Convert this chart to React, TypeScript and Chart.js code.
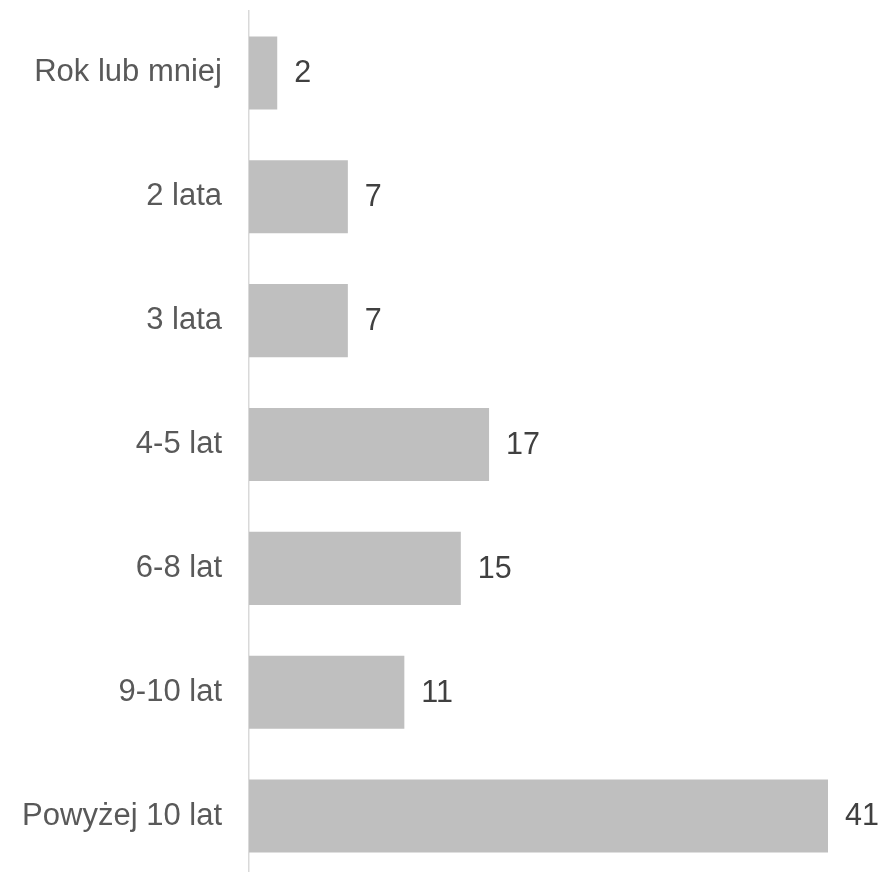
import React, { useEffect, useRef } from "react";
import { Chart, registerables } from "chart.js";

Chart.register(...registerables);

const categories = [
  "Rok lub mniej",
  "2 lata",
  "3 lata",
  "4-5 lat",
  "6-8 lat",
  "9-10 lat",
  "Powyżej 10 lat",
];
const values = [2, 7, 7, 17, 15, 11, 41];

const FONT = '"Liberation Sans", Arial, sans-serif';

const valueLabels = {
  id: "valueLabels",
  afterDatasetsDraw(chart: any) {
    const ctx = chart.ctx;
    const meta = chart.getDatasetMeta(0);
    ctx.save();
    ctx.font = `30.5px ${FONT}`;
    ctx.fillStyle = "#404040";
    ctx.textAlign = "left";
    ctx.textBaseline = "middle";
    meta.data.forEach((bar: any, i: number) => {
      ctx.fillText(String(values[i]), bar.x + 17, bar.y + 1);
    });
    ctx.restore();
  },
};

export default function App() {
  const ref = useRef<HTMLCanvasElement>(null);
  useEffect(() => {
    if (!ref.current) return;
    const chart = new Chart(ref.current, {
      type: "bar",
      data: {
        labels: categories,
        datasets: [
          {
            data: values,
            backgroundColor: "#bfbfbf",
            borderWidth: 0,
            categoryPercentage: 1,
            barPercentage: 0.59,
          },
        ],
      },
      options: {
        indexAxis: "y",
        responsive: false,
        animation: false,
        layout: { padding: { top: 11, right: 54, bottom: 0, left: 0 } },
        plugins: { legend: { display: false }, tooltip: { enabled: false } },
        scales: {
          x: { display: false, min: 0, max: 41 },
          y: {
            afterFit: (s: any) => {
              s.width = 249;
              s.paddingTop = 0;
              s.paddingBottom = 0;
            },
            grid: { display: false, drawTicks: false },
            border: { display: true, color: "#d9d9d9", width: 1.5 },
            ticks: {
              padding: 27,
              color: "#595959",
              font: { size: 31, family: FONT },
            },
          },
        },
      },
      plugins: [valueLabels],
    });
    return () => chart.destroy();
  }, []);
  return (
    <div style={{ position: "fixed", left: 0, top: 0, width: 882, height: 878, background: "#fff" }}>
      <canvas ref={ref} width={882} height={878} />
    </div>
  );
}
